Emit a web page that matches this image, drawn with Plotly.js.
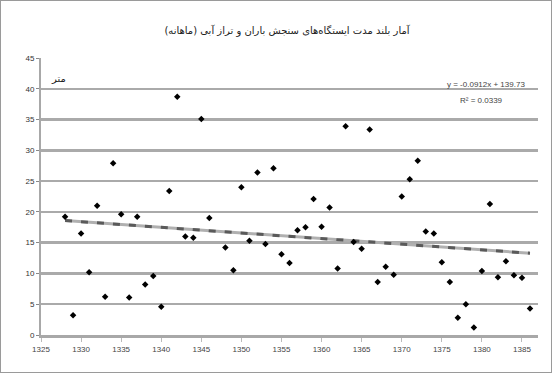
<!DOCTYPE html>
<html>
<head>
<meta charset="utf-8">
<script src="https://cdn.plot.ly/plotly-3.0.1.min.js"></script>
<style>
html,body{margin:0;padding:0;background:#fff;}
#chart{width:552px;height:373px;box-sizing:border-box;border:1px solid #9a9a9a;}
</style>
</head>
<body>
<div id="chart"></div>
<script>
const years = [1328,1329,1330,1331,1332,1333,1334,1335,1336,1337,1338,1339,1340,1341,1342,1343,1344,1345,1346,1348,1349,1350,1351,1352,1353,1354,1355,1356,1357,1358,1359,1360,1361,1362,1363,1364,1365,1366,1367,1368,1369,1370,1371,1372,1373,1374,1375,1376,1377,1378,1379,1380,1381,1382,1383,1384,1385,1386];
const values = [19.2,3.2,16.5,10.2,21.0,6.2,27.9,19.6,6.1,19.2,8.2,9.6,4.6,23.4,38.7,16.0,15.8,35.1,19.0,14.2,10.5,24.0,15.3,26.4,14.8,27.1,13.1,11.7,17.0,17.5,22.1,17.6,20.7,10.8,33.9,15.1,14.0,33.4,8.6,11.1,9.8,22.5,25.3,28.3,16.8,16.5,11.8,8.6,2.8,5.0,1.2,10.4,21.3,9.4,12.0,9.7,9.3,4.3];
const xTicks = [1325,1330,1335,1340,1345,1350,1355,1360,1365,1370,1375,1380,1385];
const yTicks = [0,5,10,15,20,25,30,35,40,45];
const titleText = "آمار بلند مدت ایستگاه‌های سنجش باران و تراز آبی (ماهانه)";
const unitLabel = "متر";

// least-squares trend line
const n = years.length;
const mx = years.reduce((a,b)=>a+b,0)/n;
const my = values.reduce((a,b)=>a+b,0)/n;
let sxy=0, sxx=0, syy=0;
for (let i=0;i<n;i++){ sxy+=(years[i]-mx)*(values[i]-my); sxx+=(years[i]-mx)**2; syy+=(values[i]-my)**2; }
const slope = sxy/sxx, intercept = my - slope*mx, r2 = (sxy*sxy)/(sxx*syy);
const tx = [years[0], years[n-1]];
const ty = tx.map(x=>slope*x+intercept);

const data = [
  {x: tx, y: ty, mode:'lines', line:{color:'#b0b0b0', width:3}, hoverinfo:'skip', showlegend:false},
  {x: tx, y: ty, mode:'lines', line:{color:'#5a5a5a', width:3, dash:'7px,9px'}, hoverinfo:'skip', showlegend:false},
  {x: years, y: values, mode:'markers', marker:{symbol:'diamond', size:5, color:'#000'}, showlegend:false}
];

const eq = 'y = ' + slope.toFixed(4) + 'x + ' + intercept.toFixed(2);
const layout = {
  width: 550, height: 371,
  margin: {l: 40, r: 13, t: 57, b: 37},
  paper_bgcolor:'#fff', plot_bgcolor:'#fff',
  font: {family: 'Arial, "Liberation Sans", sans-serif', size: 8, color:'#333'},
  title: {text: titleText, font:{family:'"DejaVu Sans", sans-serif', size: 10, color:'#222'}, x: 0.52, xanchor:'center', y: 0.92, yanchor:'middle'},
  xaxis: {range:[1325,1387], tickvals: xTicks, ticktext: xTicks.map(String), showgrid:false, zeroline:false,
          showline:true, linecolor:'#a8a8a8', linewidth:3, ticks:'outside', ticklen:4, tickcolor:'#bbbbbb', tickwidth:1,
          tickfont:{size:8, color:'#444'}},
  yaxis: {range:[0,45], tickvals: yTicks, showgrid:true, gridcolor:'#aaaaaa', gridwidth:2.5, zeroline:false,
          showline:true, linecolor:'#a8a8a8', linewidth:2, ticks:'outside', ticklen:3, tickcolor:'#888', tickfont:{size:8, color:'#333'}},
  annotations: [
    {xref:'paper', yref:'paper', x: 0.978, y: 0.906, xanchor:'right', yanchor:'middle', showarrow:false, text: eq, font:{size:8, color:'#444'}},
    {xref:'paper', yref:'paper', x: 0.934, y: 0.845, xanchor:'right', yanchor:'middle', showarrow:false, text: 'R² = ' + r2.toFixed(4), font:{size:8, color:'#444'}},
    {xref:'paper', yref:'paper', x: 0.035, y: 0.925, xanchor:'center', yanchor:'middle', showarrow:false, text: unitLabel, font:{family:'"DejaVu Sans", sans-serif', size:10, color:'#222'}}
  ]
};
Plotly.newPlot('chart', data, layout, {displayModeBar:false, staticPlot:true});
</script>
</body>
</html>
